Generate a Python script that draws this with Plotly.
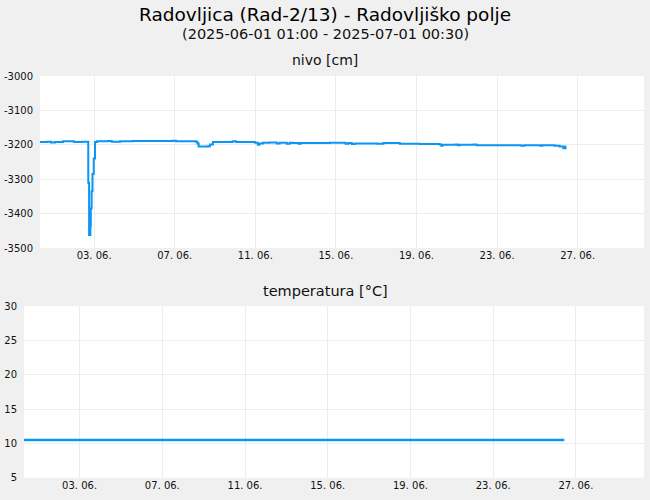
import plotly.graph_objects as go

level_times = [
    "2025-06-01 01:00", "2025-06-01 09:30", "2025-06-01 14:00", "2025-06-01 19:00",
    "2025-06-02 04:30", "2025-06-02 17:30", "2025-06-03 03:00", "2025-06-03 10:30",
    "2025-06-03 11:30", "2025-06-03 13:00", "2025-06-03 13:30", "2025-06-03 14:30",
    "2025-06-03 15:30", "2025-06-03 17:00", "2025-06-03 18:30", "2025-06-03 21:00",
    "2025-06-04 10:00", "2025-06-04 14:30", "2025-06-05 00:30", "2025-06-05 15:30",
    "2025-06-07 15:00", "2025-06-07 19:00", "2025-06-08 18:30", "2025-06-08 20:30",
    "2025-06-08 22:00", "2025-06-09 09:00", "2025-06-09 11:30", "2025-06-09 15:00",
    "2025-06-10 14:30", "2025-06-10 18:30", "2025-06-11 17:00", "2025-06-11 20:30",
    "2025-06-11 22:30", "2025-06-12 02:30", "2025-06-12 10:30", "2025-06-12 19:00",
    "2025-06-12 22:30", "2025-06-13 07:00", "2025-06-13 10:30", "2025-06-13 14:00",
    "2025-06-13 21:00", "2025-06-13 23:30", "2025-06-15 10:00", "2025-06-16 05:00",
    "2025-06-16 08:30", "2025-06-16 12:30", "2025-06-16 16:00", "2025-06-17 19:00",
    "2025-06-18 02:00", "2025-06-18 21:30", "2025-06-19 21:00", "2025-06-20 21:00",
    "2025-06-20 23:00", "2025-06-21 00:30", "2025-06-21 16:00", "2025-06-21 18:30",
    "2025-06-21 21:00", "2025-06-22 13:30", "2025-06-22 17:00", "2025-06-23 14:30",
    "2025-06-24 20:00", "2025-06-24 22:30", "2025-06-25 02:00", "2025-06-25 21:00",
    "2025-06-25 23:30", "2025-06-26 08:00", "2025-06-26 14:00", "2025-06-26 20:00",
    "2025-06-27 00:30", "2025-06-27 03:00", "2025-06-27 04:00",
]
level_values = [
    -3192, -3191, -3193, -3192,
    -3190, -3192, -3191, -3310,
    -3462, -3435, -3385, -3335,
    -3285, -3240, -3192, -3190,
    -3189, -3191, -3190, -3189,
    -3188, -3190, -3191, -3196,
    -3205, -3204, -3199, -3192,
    -3190, -3192, -3194, -3200,
    -3196, -3194, -3193, -3196,
    -3194, -3197, -3194, -3195,
    -3197, -3195, -3194, -3197,
    -3195, -3198, -3196, -3197,
    -3195, -3197, -3198, -3199,
    -3203, -3200, -3199, -3201,
    -3200, -3199, -3201, -3201,
    -3201, -3203, -3201, -3203,
    -3201, -3201, -3203, -3205,
    -3210, -3205, -3205,
]

temp_times = ["2025-06-01 01:00", "2025-06-27 04:00"]
temp_values = [10.5, 10.5]

level_ticks = [-3500, -3400, -3300, -3200, -3100, -3000]
temp_ticks = [5, 10, 15, 20, 25, 30]

x_range = ["2025-06-01 01:00", "2025-07-01 00:30"]

title = "Radovljica (Rad-2/13) - Radovljiško polje"
subtitle = "(2025-06-01 01:00 - 2025-07-01 00:30)"

W, H = 650, 500
font_family = "DejaVu Sans, sans-serif"
line_color = "#0a96f5"
grid_color = "#ececec"

fig = go.Figure()

fig.add_trace(go.Scatter(
    x=level_times, y=level_values, mode="lines", line_shape="hv",
    line=dict(color=line_color, width=2), xaxis="x", yaxis="y",
    showlegend=False, name="nivo",
))
fig.add_trace(go.Scatter(
    x=temp_times, y=temp_values, mode="lines",
    line=dict(color=line_color, width=2.5), xaxis="x2", yaxis="y2",
    showlegend=False, name="temperatura",
))

xaxis_common = dict(
    type="date", range=x_range, tick0="2025-06-03 17:30", dtick=4 * 86400000,
    tickformat="%d. %m.", showgrid=True, gridcolor=grid_color, zeroline=False,
    showline=False, ticks="", tickfont=dict(size=10, color="#111"), automargin=False,
)
yaxis_common = dict(
    showgrid=True, gridcolor=grid_color, zeroline=False, showline=False,
    ticks="", tickfont=dict(size=10, color="#111"), ticklabelstandoff=6,
    automargin=False,
)

def heading(text, y_px, size, color="#111"):
    return dict(text=text, x=0.5, y=1 - y_px / H, xref="paper", yref="paper",
                xanchor="center", yanchor="middle", showarrow=False,
                font=dict(size=size, color=color))

fig.update_layout(
    width=W, height=H, autosize=False,
    margin=dict(l=0, r=0, t=0, b=0, pad=0),
    paper_bgcolor="#f0f0f0", plot_bgcolor="#ffffff",
    font=dict(family=font_family, color="#111"),
    xaxis=dict(xaxis_common, domain=[40 / W, 644 / W], anchor="y"),
    yaxis=dict(yaxis_common, domain=[1 - 248 / H, 1 - 76 / H], range=[-3500, -3000],
               tickvals=level_ticks, ticktext=[str(v) for v in level_ticks], anchor="x"),
    xaxis2=dict(xaxis_common, domain=[24 / W, 644 / W], anchor="y2"),
    yaxis2=dict(yaxis_common, domain=[1 - 477.7 / H, 1 - 306 / H], range=[5, 30],
                tickvals=temp_ticks, anchor="x2"),
    annotations=[
        heading(title, 14, 18.5, "#000"),
        heading(subtitle, 34, 14.5),
        heading("nivo [cm]", 60, 14),
        heading("temperatura [°C]", 290.5, 14.5),
    ],
)

fig.write_html("out.html", config={"displayModeBar": False},
               post_script="document.body.style.margin='0';")
